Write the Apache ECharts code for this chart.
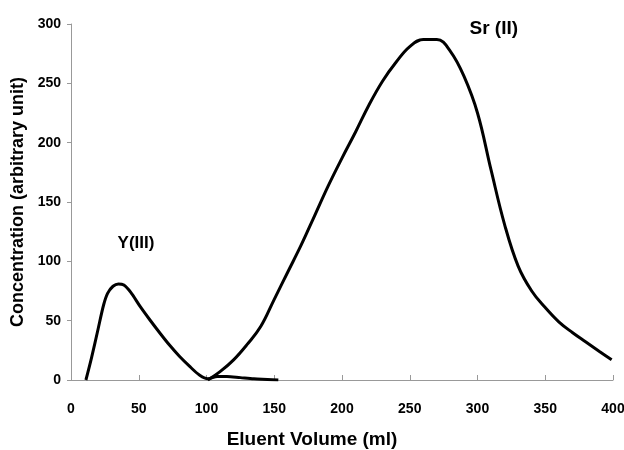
<!DOCTYPE html>
<html>
<head>
<meta charset="utf-8">
<script src="https://cdn.jsdelivr.net/npm/echarts@6/dist/echarts.min.js"></script>
<style>
  html, body { margin: 0; padding: 0; background: #fff; }
  #main { width: 624px; height: 450px; }
</style>
</head>
<body>
<div id="main"></div>
<script>
// elution curves
var yVolume = [11, 15, 20, 24, 27, 31, 35, 39, 44, 51, 58, 66, 73, 80, 88, 95, 101, 108, 115, 125, 135, 145, 153];
var yConc   = [0, 18, 43, 63, 73, 79, 81, 80, 74, 62, 51, 39, 29, 20, 11, 4, 1, 3, 3, 2, 1, 0.5, 0];

var srVolume = [101, 110, 120, 130, 140, 150, 160, 170, 180, 190, 200, 210, 220, 230, 240, 250, 260, 270, 280, 290, 300, 310, 320, 330, 340, 350, 360, 370, 380, 390, 399];
var srConc   = [0, 7, 17, 30, 45, 68, 91, 114, 139, 164, 187, 209, 232, 252, 268, 281, 287, 287, 277, 256, 225, 177, 131, 96, 75, 61, 49, 40, 32, 24, 17];

var xTicks = [0, 400, 50];   // min, max, interval
var yTicks = [0, 300, 50];

var sans = "'Liberation Sans', Arial, sans-serif";

function pairs(xs, ys) {
    var out = [];
    for (var i = 0; i < xs.length; i++) {
        out.push([xs[i], ys[i]]);
    }
    return out;
}

var myChart = echarts.init(document.getElementById('main'));
var option = {
    animation: false,
    backgroundColor: '#ffffff',
    grid: { left: 71, right: 11, top: 24, bottom: 70, outerBoundsMode: 'none' },
    xAxis: {
        type: 'value',
        min: xTicks[0], max: xTicks[1], interval: xTicks[2],
        name: 'Eluent Volume (ml)',
        nameLocation: 'middle',
        nameGap: 50,
        nameTextStyle: { color: '#000', fontFamily: sans, fontWeight: 'bold', fontSize: 19, padding: [0, 60, 0, 0] },
        axisLine: { lineStyle: { color: '#999', width: 1 } },
        axisTick: { inside: true, length: 5, lineStyle: { color: '#999' } },
        axisLabel: { margin: 22, color: '#000', fontFamily: sans, fontWeight: 'bold', fontSize: 14 },
        splitLine: { show: false }
    },
    yAxis: {
        type: 'value',
        min: yTicks[0], max: yTicks[1], interval: yTicks[2],
        name: 'Concentration (arbitrary unit)',
        nameLocation: 'middle',
        nameGap: 44,
        nameTextStyle: { color: '#000', fontFamily: sans, fontWeight: 'bold', fontSize: 18 },
        axisLine: { show: true, lineStyle: { color: '#999', width: 1 } },
        axisTick: { show: true, length: 4, lineStyle: { color: '#999' } },
        axisLabel: { margin: 10, color: '#000', fontFamily: sans, fontWeight: 'bold', fontSize: 14 },
        splitLine: { show: false }
    },
    series: [
        {
            name: 'Y(III)',
            type: 'line',
            data: pairs(yVolume, yConc),
            smooth: 0.3,
            showSymbol: false,
            lineStyle: { color: '#000', width: 3 },
            markPoint: {
                symbol: 'circle', symbolSize: 0,
                label: { show: true, position: 'inside', formatter: 'Y(III)', color: '#000', fontFamily: sans, fontWeight: 'bold', fontSize: 17 },
                data: [{ coord: [48, 115] }]
            }
        },
        {
            name: 'Sr (II)',
            type: 'line',
            data: pairs(srVolume, srConc),
            smooth: 0.4,
            showSymbol: false,
            lineStyle: { color: '#000', width: 3 },
            markPoint: {
                symbol: 'circle', symbolSize: 0,
                label: { show: true, position: 'inside', formatter: 'Sr (II)', color: '#000', fontFamily: sans, fontWeight: 'bold', fontSize: 19 },
                data: [{ coord: [312, 296] }]
            }
        }
    ]
};
option && myChart.setOption(option);
</script>
</body>
</html>
